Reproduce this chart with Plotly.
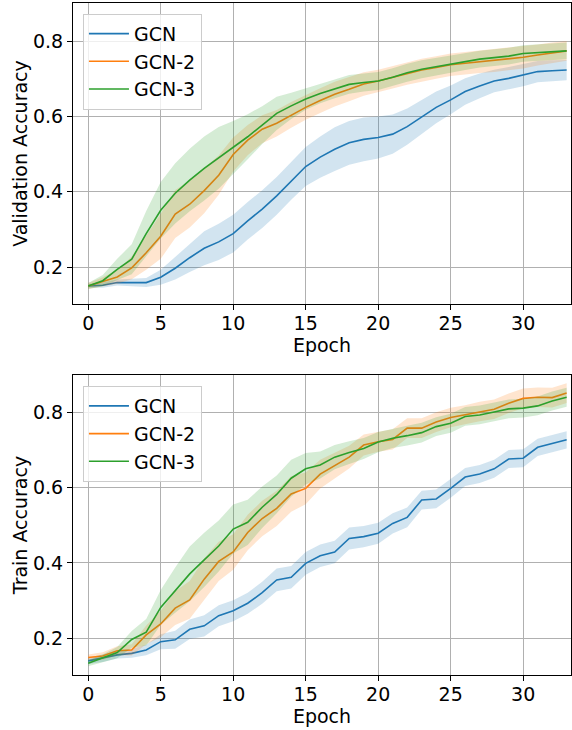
import plotly.graph_objects as go

epochs = list(range(34))
names = ["GCN", "GCN-2", "GCN-3"]
colors = ["#1f77b4", "#ff7f0e", "#2ca02c"]
fills = ["rgba(31,119,180,0.2)", "rgba(255,127,14,0.2)", "rgba(44,160,44,0.2)"]

val_gcn = [0.150, 0.152, 0.159, 0.159, 0.159, 0.173, 0.197, 0.225, 0.250, 0.267,
           0.289, 0.323, 0.354, 0.389, 0.429, 0.467, 0.492, 0.513, 0.530, 0.539,
           0.544, 0.553, 0.573, 0.598, 0.624, 0.644, 0.666, 0.681, 0.694, 0.701,
           0.710, 0.719, 0.721, 0.723]
val_gcn_std = [0.005, 0.007, 0.008, 0.010, 0.012, 0.020, 0.030, 0.038, 0.045, 0.048,
               0.050, 0.050, 0.050, 0.050, 0.050, 0.052, 0.055, 0.058, 0.058, 0.058,
               0.056, 0.052, 0.048, 0.045, 0.042, 0.038, 0.035, 0.033, 0.030, 0.030,
               0.030, 0.028, 0.028, 0.027]
val_gcn2 = [0.150, 0.161, 0.174, 0.198, 0.238, 0.282, 0.341, 0.367, 0.403, 0.444,
            0.499, 0.537, 0.566, 0.582, 0.604, 0.624, 0.642, 0.659, 0.672, 0.686,
            0.694, 0.704, 0.714, 0.723, 0.730, 0.737, 0.741, 0.745, 0.748, 0.752,
            0.757, 0.763, 0.769, 0.774]
val_gcn2_std = [0.008, 0.012, 0.018, 0.030, 0.045, 0.060, 0.064, 0.062, 0.060, 0.052,
                0.045, 0.040, 0.037, 0.035, 0.034, 0.033, 0.033, 0.033, 0.032, 0.031,
                0.030, 0.030, 0.030, 0.030, 0.030, 0.030, 0.030, 0.030, 0.030, 0.030,
                0.030, 0.028, 0.027, 0.026]
val_gcn3 = [0.150, 0.164, 0.194, 0.221, 0.289, 0.351, 0.396, 0.431, 0.462, 0.490,
            0.518, 0.546, 0.577, 0.608, 0.628, 0.646, 0.661, 0.673, 0.685, 0.690,
            0.694, 0.704, 0.716, 0.725, 0.732, 0.739, 0.746, 0.752, 0.756, 0.760,
            0.767, 0.769, 0.772, 0.774]
val_gcn3_std = [0.008, 0.015, 0.028, 0.040, 0.060, 0.075, 0.080, 0.083, 0.085, 0.082,
                0.070, 0.060, 0.050, 0.044, 0.035, 0.028, 0.026, 0.025, 0.025, 0.024,
                0.024, 0.024, 0.024, 0.024, 0.023, 0.023, 0.023, 0.022, 0.022, 0.022,
                0.022, 0.022, 0.022, 0.022]

train_gcn = [0.140, 0.147, 0.156, 0.160, 0.169, 0.191, 0.196, 0.224, 0.233, 0.260,
             0.273, 0.293, 0.321, 0.355, 0.362, 0.399, 0.419, 0.429, 0.465, 0.470,
             0.479, 0.505, 0.521, 0.567, 0.570, 0.598, 0.628, 0.636, 0.650, 0.676,
             0.678, 0.707, 0.716, 0.727]
train_gcn_std = [0.008, 0.010, 0.010, 0.012, 0.014, 0.020, 0.024, 0.026, 0.028, 0.028,
                 0.028, 0.028, 0.029, 0.030, 0.030, 0.030, 0.030, 0.030, 0.029, 0.028,
                 0.028, 0.027, 0.026, 0.025, 0.025, 0.025, 0.024, 0.024, 0.024, 0.024,
                 0.024, 0.023, 0.023, 0.023]
train_gcn2 = [0.149, 0.153, 0.167, 0.169, 0.209, 0.238, 0.280, 0.302, 0.357, 0.404,
              0.429, 0.481, 0.518, 0.545, 0.583, 0.598, 0.636, 0.658, 0.681, 0.713,
              0.722, 0.728, 0.758, 0.758, 0.774, 0.786, 0.793, 0.802, 0.808, 0.824,
              0.837, 0.840, 0.839, 0.851]
train_gcn2_std = [0.008, 0.010, 0.012, 0.015, 0.025, 0.035, 0.045, 0.050, 0.055, 0.052,
                  0.047, 0.047, 0.047, 0.047, 0.047, 0.042, 0.038, 0.034, 0.030, 0.028,
                  0.027, 0.027, 0.026, 0.026, 0.026, 0.026, 0.026, 0.026, 0.026, 0.026,
                  0.026, 0.026, 0.026, 0.026]
train_gcn3 = [0.134, 0.147, 0.162, 0.197, 0.216, 0.282, 0.328, 0.371, 0.408, 0.445,
              0.490, 0.508, 0.548, 0.582, 0.625, 0.650, 0.660, 0.681, 0.693, 0.704,
              0.721, 0.731, 0.738, 0.746, 0.762, 0.771, 0.789, 0.793, 0.801, 0.809,
              0.811, 0.817, 0.830, 0.840]
train_gcn3_std = [0.008, 0.010, 0.015, 0.022, 0.035, 0.046, 0.060, 0.073, 0.072, 0.068,
                  0.065, 0.060, 0.055, 0.050, 0.049, 0.042, 0.036, 0.032, 0.030, 0.028,
                  0.027, 0.026, 0.026, 0.026, 0.025, 0.025, 0.025, 0.025, 0.025, 0.025,
                  0.025, 0.025, 0.025, 0.025]

val_series = [(val_gcn, val_gcn_std), (val_gcn2, val_gcn2_std), (val_gcn3, val_gcn3_std)]
train_series = [(train_gcn, train_gcn_std), (train_gcn2, train_gcn2_std), (train_gcn3, train_gcn3_std)]

FONT = "DejaVu Sans"
FS = 19
fig = go.Figure()


def add_panel(series, xaxis, yaxis, legend):
    for i, (m, s) in enumerate(series):
        upper = [a + b for a, b in zip(m, s)]
        lower = [a - b for a, b in zip(m, s)]
        fig.add_trace(go.Scatter(
            x=epochs, y=m, mode="lines", name=names[i],
            line=dict(color=colors[i], width=1.6),
            xaxis=xaxis, yaxis=yaxis, legend=legend, legendrank=i))
        fig.add_trace(go.Scatter(
            x=epochs + epochs[::-1], y=upper + lower[::-1], fill="toself",
            fillcolor=fills[i], line=dict(width=0), mode="lines",
            hoverinfo="skip", showlegend=False, xaxis=xaxis, yaxis=yaxis))


add_panel(val_series, "x", "y", "legend")
add_panel(train_series, "x2", "y2", "legend2")

axis_common = dict(
    showline=True, linecolor="black", linewidth=1.1, mirror=True,
    ticks="outside", ticklen=5, tickwidth=1.1, tickcolor="black",
    showgrid=True, gridcolor="#b0b0b0", gridwidth=1, zeroline=False,
    tickfont=dict(family=FONT, size=FS, color="black"),
    automargin=False,
)

xcommon = dict(axis_common, range=[-1.05, 33.3], tickvals=[0, 5, 10, 15, 20, 25, 30],
               ticklabelstandoff=-3,
               title=dict(text="Epoch", font=dict(family=FONT, size=FS, color="black"), standoff=0))

legend_common = dict(
    bgcolor="rgba(255,255,255,0.8)", bordercolor="#cccccc", borderwidth=1,
    font=dict(family=FONT, size=FS, color="black"),
    xanchor="left", yanchor="top", itemwidth=40,
)

fig.update_layout(
    width=572, height=730,
    margin=dict(l=73, r=1, t=3, b=55),
    plot_bgcolor="white", paper_bgcolor="white",
    font=dict(family=FONT, size=FS, color="black"),
    xaxis=dict(xcommon, domain=[0, 1], anchor="y"),
    yaxis=dict(axis_common, domain=[0.552, 1], range=[0.102, 0.901],
               tickvals=[0.2, 0.4, 0.6, 0.8], tickformat=".1f",
               title=dict(text="Validation Accuracy", font=dict(family=FONT, size=FS, color="black"), standoff=0)),
    xaxis2=dict(xcommon, domain=[0, 1], anchor="y2"),
    yaxis2=dict(axis_common, domain=[0, 0.4464], range=[0.1025, 0.899],
                tickvals=[0.2, 0.4, 0.6, 0.8], tickformat=".1f",
                title=dict(text="Train Accuracy", font=dict(family=FONT, size=FS, color="black"), standoff=0)),
    legend=dict(legend_common, x=0.02, y=0.984),
    legend2=dict(legend_common, x=0.02, y=0.43),
    showlegend=True,
)

fig.write_html("out.html", config={"displayModeBar": False},
               post_script="document.body.style.margin='0';document.body.style.overflow='hidden';")
